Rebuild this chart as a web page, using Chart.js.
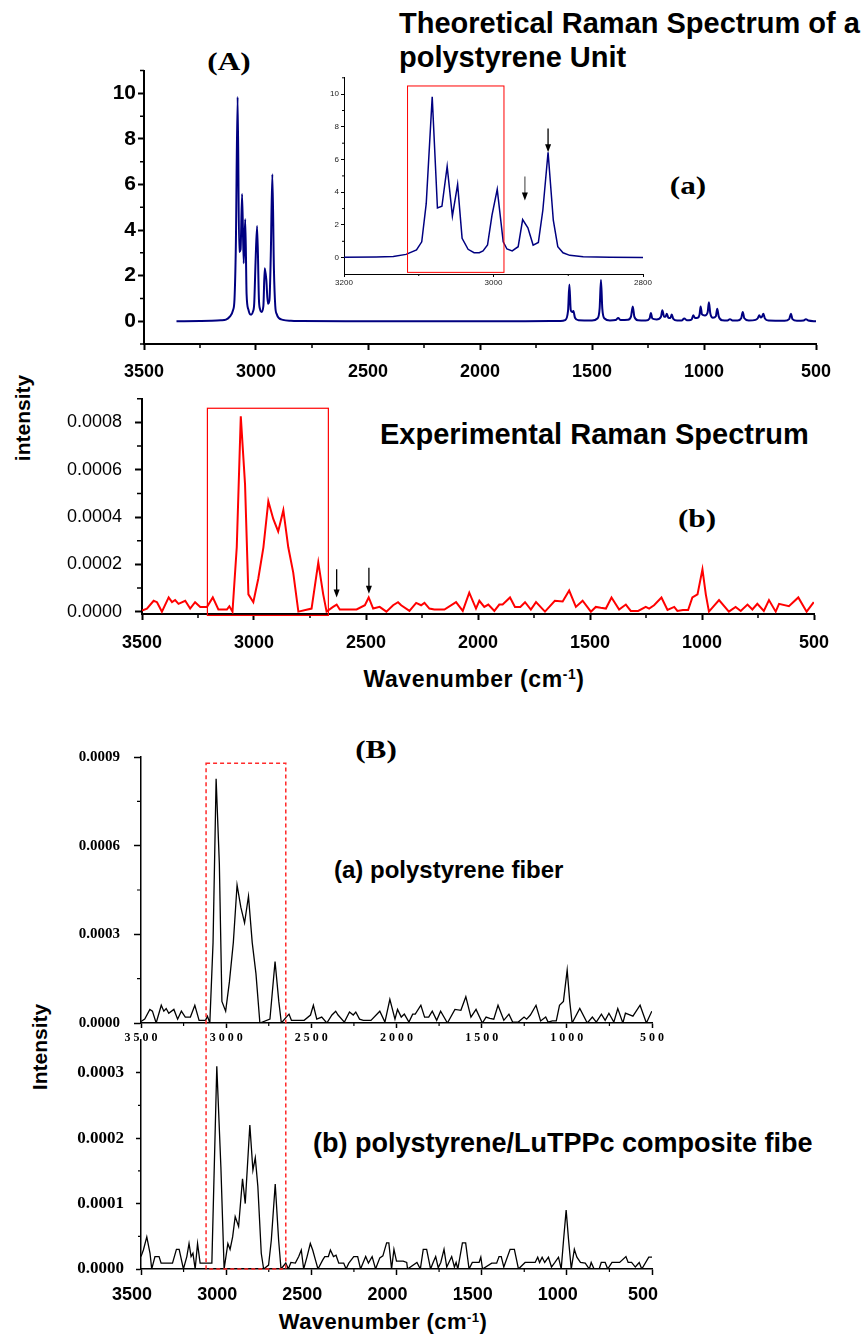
<!DOCTYPE html>
<html>
<head>
<meta charset="utf-8">
<script src="https://cdn.jsdelivr.net/npm/chart.js@4.4.1/dist/chart.umd.min.js"></script>
<style>
  body { margin: 0; width: 866px; height: 1337px; position: relative; overflow: hidden; background: #fff; }
  canvas { position: absolute; }
  .t { position: absolute; white-space: nowrap; color: #000; line-height: 1; font-family: "Liberation Sans", Arial, sans-serif; font-weight: bold; }
  .c { transform: translate(-50%, -50%); }
  .v { transform: translate(-50%, -50%) rotate(-90deg); }
  .lab { font-family: "Liberation Serif", "Times New Roman", serif; font-size: 26px; transform: translate(-50%, -50%) scaleX(1.2); }
  sup { font-size: 0.6em; vertical-align: 0.55em; line-height: 0; }
</style>
</head>
<body>
<div class="t lab" style="left:229px;top:62px">(A)</div>
<div class="t" style="left:399px;top:7px;font-size:29px;line-height:33.7px">Theoretical Raman Spectrum of a<br>polystyrene Unit</div>
<div class="t lab" style="left:688px;top:186px">(a)</div>
<div class="t" style="left:380px;top:420px;font-size:29px">Experimental Raman Spectrum</div>
<div class="t lab" style="left:697px;top:519px">(b)</div>
<div class="t v" style="left:22px;top:418px;font-size:21px">intensity</div>
<div class="t c" style="left:474px;top:679px;font-size:23px;letter-spacing:0.6px">Wavenumber (cm<sup>-1</sup>)</div>
<div class="t lab" style="left:376px;top:750px">(B)</div>
<div class="t" style="left:334px;top:858px;font-size:24px">(a) polystyrene fiber</div>
<div class="t" style="left:313px;top:1130px;font-size:27px">(b) polystyrene/LuTPPc composite fibe</div>
<div class="t v" style="left:39px;top:1047px;font-size:21px">Intensity</div>
<div class="t c" style="left:383px;top:1322px;font-size:22px;letter-spacing:0.4px">Wavenumber (cm<sup>-1</sup>)</div>

<script>
// ---------------------------------------------
// Theoretical spectrum (wavenumber, intensity)
// ---------------------------------------------
const theoryX = [3355, 3250, 3200, 3157, 3134, 3117, 3103, 3096, 3090, 3082, 3075, 3069, 3062, 3055, 3048, 3042,
  3034, 3026, 3019, 3014, 3008, 3002, 2995, 2987, 2982, 2975, 2967, 2961, 2954, 2947, 2940, 2934, 2927, 2920,
  2914, 2907, 2898, 2880, 2844, 2800, 2600, 2200, 1800, 1640, 1620, 1607, 1601, 1595, 1589, 1583, 1576, 1560,
  1500, 1476, 1466, 1460, 1454, 1444, 1420, 1395, 1383, 1372, 1340, 1326, 1318, 1311, 1295, 1260, 1243, 1237,
  1231, 1212, 1192, 1186, 1178, 1172, 1166, 1159, 1150, 1144, 1137, 1120, 1100, 1088, 1076, 1060, 1054, 1048,
  1040, 1028, 1020, 1015, 1009, 996, 984, 978, 972, 960, 947, 941, 934, 918, 895, 884, 873, 850, 834, 827, 820,
  800, 770, 760, 753, 747, 741, 735, 728, 712, 640, 620, 612, 605, 585, 555, 545, 535, 500];
const theoryY = [0, 0.01, 0.02, 0.04, 0.07, 0.2, 0.47, 0.97, 3.3, 9.84, 3.04, 3.14, 5.58, 2.54, 4.48, 1.18,
  0.51, 0.3, 0.3, 0.41, 0.77, 2.6, 4.18, 0.97, 0.53, 0.41, 0.67, 2.33, 1.83, 0.77, 0.93, 2.9, 6.45, 2.29,
  0.67, 0.3, 0.14, 0.06, 0.02, 0.01, 0, 0, 0, 0.01, 0.05, 0.45, 1.61, 0.5, 0.4, 0.45, 0.15, 0.04,
  0.03, 0.12, 0.55, 1.81, 0.55, 0.12, 0.03, 0.05, 0.14, 0.05, 0.06, 0.2, 0.65, 0.2, 0.04, 0.03, 0.12, 0.36,
  0.12, 0.08, 0.2, 0.48, 0.2, 0.2, 0.33, 0.15, 0.14, 0.29, 0.1, 0.03, 0.03, 0.12, 0.04, 0.05, 0.1, 0.26,
  0.14, 0.15, 0.28, 0.65, 0.3, 0.25, 0.38, 0.83, 0.35, 0.15, 0.22, 0.55, 0.2, 0.04, 0.03, 0.09, 0.03, 0.03, 0.13, 0.41, 0.13,
  0.03, 0.06, 0.13, 0.26, 0.16, 0.2, 0.33, 0.12, 0.03, 0.02, 0.09, 0.33, 0.09, 0.02, 0.03, 0.09, 0.03, 0];

// ---------------------------------------------
// Experimental spectrum of the polystyrene fiber
// ---------------------------------------------
const fiberX = [3500, 3478, 3448, 3433, 3411, 3381, 3366, 3352, 3337, 3307, 3285, 3263, 3240, 3210, 3184, 3159,
  3121, 3110, 3096, 3077, 3059, 3040, 3025, 3003, 2981, 2958, 2936, 2914, 2892, 2869, 2847, 2825, 2802, 2743,
  2713, 2691, 2676, 2647, 2631, 2617, 2542, 2505, 2488, 2468, 2439, 2409, 2379, 2357, 2343, 2306, 2276, 2254,
  2239, 2217, 2195, 2150, 2098, 2068, 2039, 2009, 1994, 1972, 1954, 1927, 1905, 1890, 1857, 1835, 1811, 1790,
  1764, 1741, 1701, 1657, 1622, 1593, 1563, 1533, 1496, 1474, 1452, 1429, 1404, 1370, 1340, 1318, 1285, 1251,
  1236, 1214, 1181, 1154, 1124, 1110, 1085, 1062, 1043, 1020, 998, 983, 969, 924, 880, 850, 827, 797, 775,
  753, 724, 701, 671, 656, 612, 570, 533, 501];
const fiberY = [0.000005, 0.000013, 0.000046, 0.00004, 0, 0.00006, 0.00004, 0.000049, 0.000033, 0.000046, 0.000013,
  0.00004, 0.00002, 0.00002, 0.00006, 0.000009, 0.000009, 0.000023, 0, 0.000272, 0.000826, 0.000538, 0.000073,
  0.00004, 0.000139, 0.000272, 0.000467, 0.000392, 0.000339, 0.000429, 0.000272, 0.000166, 0, 0.000013,
  0.000208, 0.000073, 0, 0.00002, 0.00003, 0.000009, 0.000009, 0.000027, 0.00006, 0.000013, 0.00002, 0,
  0.000027, 0.00004, 0.000027, 0.000003, 0.000037, 0.000027, 0.000037, 0.000013, 0.000009, 0.000009, 0.00004,
  0.000003, 0.00008, 0.000013, 0.000046, 0.00002, 0.00003, 0.000003, 0.00003, 0.00003, 0.00006, 0.00002,
  0.00002, 0.00004, 0.000009, 0.00004, 0, 0.000046, 0.000043, 0.000089, 0.00002, 0.000046, 0, 0.00002,
  0.000016, 0.000013, 0.00006, 0.000009, 0.00003, 0.000003, 0.000003, 0.00002, 0.000013, 0.000027, 0.00006,
  0.000007, 0.00002, 0.000003, 0.000007, 0.000007, 0.00006, 0.000073, 0.000179, 0.000073, 0, 0.000049, 0,
  0.00002, 0.000003, 0.00003, 0.000009, 0.000033, 0.000003, 0.000049, 0, 0.000033, 0.000023, 0.00006, 0, 0.00004];

// ---------------------------------------------
// polystyrene/LuTPPc composite fiber
// ---------------------------------------------
const compX = [3500, 3486, 3466, 3447, 3437, 3418, 3394, 3382, 3315, 3292, 3276, 3251, 3231, 3218, 3206, 3195,
  3182, 3168, 3153, 3084, 3055, 3031, 3012, 2990, 2977, 2962, 2947, 2927, 2904, 2888, 2861, 2843, 2829, 2814,
  2794, 2780, 2751, 2735, 2712, 2692, 2678, 2650, 2635, 2620, 2594, 2574, 2559, 2545, 2525, 2506, 2492, 2476,
  2461, 2433, 2421, 2400, 2388, 2370, 2355, 2339, 2310, 2296, 2280, 2251, 2228, 2211, 2181, 2165, 2143, 2123,
  2098, 2080, 2058, 2045, 2029, 2015, 2000, 1961, 1940, 1935, 1880, 1860, 1843, 1823, 1800, 1785, 1770, 1755,
  1740, 1721, 1705, 1676, 1660, 1650, 1640, 1613, 1594, 1574, 1555, 1515, 1505, 1495, 1441, 1412, 1398, 1385,
  1370, 1333, 1308, 1284, 1245, 1186, 1171, 1160, 1145, 1130, 1108, 1090, 1070, 1049, 1033, 1019, 1004, 990,
  974, 956, 941, 920, 892, 868, 857, 840, 810, 798, 775, 760, 735, 705, 690, 653, 640, 620, 598, 575, 560, 519, 500];
const compY = [0.000019, 0.000029, 0.000049, 0.000024, 0, 0.000019, 0.000019, 0.000009, 0.000009, 0.00003, 0.00003,
  0, 0.000019, 0.000039, 0.000019, 0.000024, 0, 0.000039, 0.000009, 0.000009, 0.00031, 0.000156, 0, 0.000039,
  0.00003, 0.000049, 0.00008, 0.000065, 0.000138, 0.0001, 0.00022, 0.000151, 0.00017, 0.000126, 0.000024, 0,
  0.000006, 0.000044, 0.00013, 0.000044, 0, 0.000009, 0, 0.00001, 0.000009, 0.000019, 0.000029, 0, 0.000019,
  0.000039, 0.000029, 0.000014, 0, 0.000014, 0.000019, 0.000019, 0.000029, 0.000019, 0.000021, 0.000009,
  0.000009, 0, 0.000009, 0.000019, 0.000019, 0, 0.000019, 0.000009, 0.000019, 0, 0.000017, 0.00002, 0.00004,
  0.00004, 0, 0.00003, 0.000012, 0.000012, 0.00001, 0, 0.00001, 0, 0.00003, 0.00003, 0, 0.00001, 0.000019,
  0.000002, 0.00001, 0.00003, 0.000003, 0.000019, 0.000003, 0.00001, 0, 0.00004, 0.00004, 0, 0.00001, 0.00001,
  0.000018, 0, 0.000009, 0.000009, 0.000019, 0.000019, 0.000003, 0.00003, 0.00003, 0, 0.00001, 0.00001,
  0.000018, 0.00001, 0.000018, 0.00001, 0.000018, 0.000003, 0.00001, 0.000018, 0, 0.000045, 0.00009, 0.000045,
  0, 0.00003, 0.000018, 0.00001, 0.000009, 0, 0.00001, 0, 0, 0.00001, 0.00001, 0, 0.00001, 0.00001, 0.00001,
  0.000019, 0.00001, 0.00001, 0.000003, 0.00001, 0, 0.000018, 0.000018];

// axis ticks
const waveTicks = [3500, 3000, 2500, 2000, 1500, 1000, 500];
const waveMinor = [3250, 2750, 2250, 1750, 1250, 750];
const theoryTicks = [0, 2, 4, 6, 8, 10];
const theoryMinor = [-1, 1, 3, 5, 7, 9, 11];
const insetTicks = [3200, 3000, 2800];
const insetMinor = [3100, 2900];
const expTicks = [0, 0.0002, 0.0004, 0.0006, 0.0008];
const expMinor = [0.0001, 0.0003, 0.0005, 0.0007, 0.0009];
const fiberTicks = [0, 0.0003, 0.0006, 0.0009];
const fiberMinor = [0.00015, 0.00045, 0.00075];
const compTicks = [0, 0.0001, 0.0002, 0.0003];
const compMinor = [0.00005, 0.00015, 0.00025];

const SANS = "'Liberation Sans', Arial, sans-serif";
const SERIF = "'Liberation Serif', 'Times New Roman', serif";

function points(xs, ys) {
    return xs.map((x, i) => ({ x: x, y: ys[i] }));
}

function ticksAt(values) {
    return function (scale) { scale.ticks = values.map(v => ({ value: v })); };
}

function arrow(ctx, x, y0, y1, shaft) {
    ctx.strokeStyle = shaft || '#000';
    ctx.lineWidth = 1.3;
    ctx.beginPath(); ctx.moveTo(x, y0); ctx.lineTo(x, y1 - 6); ctx.stroke();
    ctx.fillStyle = '#000';
    ctx.beginPath(); ctx.moveTo(x - 3, y1 - 8); ctx.lineTo(x + 3, y1 - 8); ctx.lineTo(x, y1); ctx.closePath(); ctx.fill();
}

// minor ticks, boxes and arrows
function decorate(chart, p) {
    const ctx = chart.ctx, xs = chart.scales.x, ys = chart.scales.y, a = chart.chartArea;
    ctx.save();
    ctx.strokeStyle = '#000';
    ctx.lineWidth = p.minorWidth;
    ctx.beginPath();
    p.xMinor.forEach(v => {
        const px = xs.getPixelForValue(v);
        ctx.moveTo(px, a.bottom); ctx.lineTo(px, a.bottom + p.xMinorLen);
    });
    p.yMinor.forEach(v => {
        const py = ys.getPixelForValue(v);
        ctx.moveTo(a.left, py); ctx.lineTo(a.left - p.yMinorLen, py);
    });
    ctx.stroke();
    (p.boxes || []).forEach(b => {
        const x0 = xs.getPixelForValue(b.x0), x1 = xs.getPixelForValue(b.x1);
        const y0 = ys.getPixelForValue(b.y0), y1 = ys.getPixelForValue(b.y1);
        ctx.strokeStyle = b.color;
        ctx.lineWidth = b.width;
        ctx.setLineDash(b.dash || []);
        ctx.strokeRect(x0, y1, x1 - x0, y0 - y1);
        ctx.setLineDash([]);
    });
    (p.arrows || []).forEach(r => {
        arrow(ctx, xs.getPixelForValue(r.x), ys.getPixelForValue(r.y0), ys.getPixelForValue(r.y1), r.shaft);
    });
    ctx.restore();
}

function makePanel(p) {
    const left = p.area.l - p.yw;
    const top = p.area.t - p.padTop;
    const width = p.area.r + p.padRight - left;
    const height = p.area.b + p.xh - top;
    const canvas = document.createElement('canvas');
    canvas.width = width;
    canvas.height = height;
    canvas.style.left = left + 'px';
    canvas.style.top = top + 'px';
    canvas.style.width = width + 'px';
    canvas.style.height = height + 'px';
    document.body.appendChild(canvas);

    return new Chart(canvas.getContext('2d'), {
        type: 'line',
        data: {
            datasets: [{
                data: p.data,
                borderColor: p.color,
                borderWidth: p.lineWidth,
                pointRadius: 0,
                tension: 0,
                cubicInterpolationMode: p.smooth ? 'monotone' : 'default',
                fill: false
            }]
        },
        options: {
            responsive: false,
            animation: false,
            devicePixelRatio: 1,
            layout: { padding: { left: 0, top: p.padTop, right: p.padRight, bottom: 0 } },
            plugins: { legend: { display: false }, tooltip: { enabled: false } },
            scales: {
                x: {
                    type: 'linear', min: p.xMin, max: p.xMax, reverse: true,
                    afterBuildTicks: ticksAt(p.xTicks),
                    afterFit: s => { s.height = p.xh; },
                    grid: { display: true, drawOnChartArea: false, drawTicks: true, tickLength: p.xTickLen, tickWidth: p.axisWidth, tickColor: '#000', color: '#000' },
                    border: { display: true, color: '#000', width: p.axisWidth },
                    ticks: {
                        color: p.tickColor || '#000', font: p.xFont, padding: p.xPad, labelOffset: p.xLabelOffset || 0,
                        maxRotation: 0, autoSkip: false, callback: p.xFormat
                    }
                },
                y: {
                    type: 'linear', min: p.yMin, max: p.yMax,
                    afterBuildTicks: ticksAt(p.yTicks),
                    afterFit: s => { s.width = p.yw; },
                    grid: { display: true, drawOnChartArea: false, drawTicks: true, tickLength: p.yTickLen, tickWidth: p.axisWidth, tickColor: '#000', color: '#000' },
                    border: { display: true, color: '#000', width: p.axisWidth },
                    ticks: {
                        color: p.tickColor || '#000', font: p.yFont, padding: p.yPad,
                        autoSkip: false, callback: p.yFormat
                    }
                }
            }
        },
        plugins: [{ id: 'deco', afterDraw: chart => decorate(chart, p) }]
    });
}

const plain = v => String(v);
const fixed4 = v => v.toFixed(4);

// -----------------------------
// (A)(a) theoretical spectrum
// -----------------------------
makePanel({
    area: { l: 144, t: 68, r: 816, b: 344 }, yw: 60, padTop: 12, padRight: 30, xh: 40,
    data: points(theoryX, theoryY), color: '#000080', lineWidth: 2, smooth: true,
    xMin: 500, xMax: 3500, xTicks: waveTicks, xMinor: waveMinor, xFormat: plain,
    yMin: -1, yMax: 11, yTicks: theoryTicks, yMinor: theoryMinor, yFormat: plain,
    xFont: { family: SANS, size: 18, weight: 'bold' }, yFont: { family: SANS, size: 21, weight: 'bold' },
    xPad: 11, yPad: 2, xTickLen: 6, yTickLen: 6, xMinorLen: 4, yMinorLen: 4, axisWidth: 2, minorWidth: 1.5
});

// inset: zoom of the C-H stretching region
const insetX = theoryX.filter(v => v >= 2800 && v <= 3200);
const insetY = theoryY.filter((v, i) => theoryX[i] >= 2800 && theoryX[i] <= 3200);
makePanel({
    area: { l: 344, t: 77, r: 643, b: 274 }, yw: 22, padTop: 6, padRight: 14, xh: 16,
    data: points(insetX, insetY), color: '#000080', lineWidth: 1.5, smooth: false,
    xMin: 2800, xMax: 3200, xTicks: insetTicks, xMinor: insetMinor, xFormat: plain,
    yMin: -1, yMax: 11, yTicks: theoryTicks, yMinor: [1, 3, 5, 7, 9, 11], yFormat: plain,
    xFont: { family: SANS, size: 8 }, yFont: { family: SANS, size: 8 }, tickColor: '#222',
    xPad: 1, yPad: 2, xTickLen: 3, yTickLen: 3, xMinorLen: 2, yMinorLen: 2, axisWidth: 1, minorWidth: 1,
    boxes: [{ x0: 3115, x1: 2986, y0: -0.9, y1: 10.5, color: '#ff0000', width: 1 }],
    arrows: [{ x: 2958, y0: 4.97, y1: 3.5, shaft: '#666' }, { x: 2927, y0: 7.9, y1: 6.45 }]
});

// -----------------------------
// (A)(b) experimental spectrum
// -----------------------------
makePanel({
    area: { l: 142, t: 387, r: 814, b: 614 }, yw: 80, padTop: 12, padRight: 30, xh: 40,
    data: points(fiberX, fiberY), color: '#ff0000', lineWidth: 2, smooth: false,
    xMin: 500, xMax: 3500, xTicks: waveTicks, xMinor: waveMinor, xFormat: plain,
    yMin: -0.00001, yMax: 0.0009, yTicks: expTicks, yMinor: expMinor, yFormat: fixed4,
    xFont: { family: SANS, size: 18, weight: 'bold' }, yFont: { family: SANS, size: 18 },
    xPad: 12, yPad: 13, xTickLen: 6, yTickLen: 7, xMinorLen: 4, yMinorLen: 5, axisWidth: 2, minorWidth: 1.5,
    boxes: [{ x0: 3208, x1: 2668, y0: -0.000016, y1: 0.00086, color: '#ff0000', width: 1.2 }],
    arrows: [{ x: 2631, y0: 0.000179, y1: 0.00006 }, { x: 2487, y0: 0.000186, y1: 0.0000757 }]
});

// -----------------------------
// (B)(a) polystyrene fiber
// -----------------------------
makePanel({
    area: { l: 141, t: 748, r: 652, b: 1023 }, yw: 80, padTop: 14, padRight: 20, xh: 25,
    data: points(fiberX, fiberY), color: '#000', lineWidth: 1.3, smooth: false,
    xMin: 500, xMax: 3500, xTicks: waveTicks, xMinor: waveMinor, xFormat: v => String(v).split('').join(' '),
    yMin: 0, yMax: 0.0009, yTicks: fiberTicks, yMinor: fiberMinor, yFormat: fixed4,
    xFont: { family: SERIF, size: 12, weight: 'bold' }, yFont: { family: SERIF, size: 15, weight: 'bold' },
    xPad: 3, yPad: 14, xTickLen: 5, yTickLen: 7, xMinorLen: 3, yMinorLen: 4, axisWidth: 1.5, minorWidth: 1.2
});

// -----------------------------
// (B)(b) composite fiber + dashed region box
// -----------------------------
makePanel({
    area: { l: 141, t: 1040, r: 652, b: 1269 }, yw: 80, padTop: 290, padRight: 25, xh: 40,
    data: points(compX, compY), color: '#000', lineWidth: 1.3, smooth: false,
    xMin: 500, xMax: 3500, xTicks: waveTicks, xMinor: waveMinor, xFormat: plain, xLabelOffset: -9,
    yMin: 0, yMax: 0.00035, yTicks: compTicks, yMinor: compMinor, yFormat: fixed4,
    xFont: { family: SANS, size: 18, weight: 'bold' }, yFont: { family: SERIF, size: 17, weight: 'bold' },
    xPad: 9, yPad: 12, xTickLen: 6, yTickLen: 5, xMinorLen: 3, yMinorLen: 3, axisWidth: 1.5, minorWidth: 1.2,
    boxes: [{ x0: 3118, x1: 2650, y0: 0, y1: 0.000773, color: '#ff2a2a', width: 1.5, dash: [4, 3] }]
});
</script>
</body>
</html>
